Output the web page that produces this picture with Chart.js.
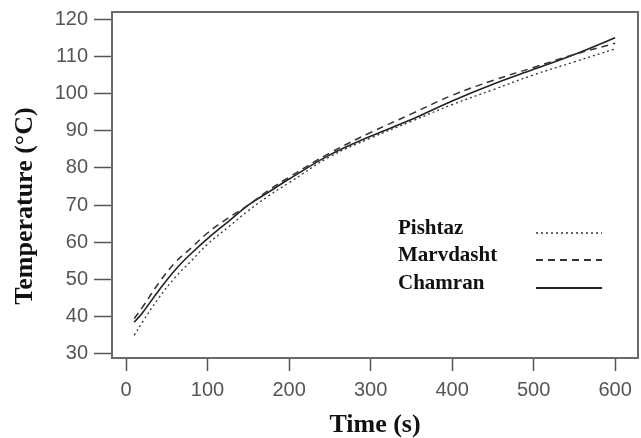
<!DOCTYPE html>
<html lang="en">
<head>
  <meta charset="UTF-8">
  <title>Temperature vs Time</title>
  <script src="https://cdn.jsdelivr.net/npm/chart.js"></script>
  <style>
    html, body { margin: 0; padding: 0; background: #fff; overflow: hidden; }
    .chart-container { position: relative; width: 641px; height: 438px; }
  </style>
</head>
<body>
  <div class="chart-container">
    <canvas id="tempChart" width="641" height="438"></canvas>
  </div>

  <script>
    // time in seconds
    const times = [10, 20, 40, 60, 80, 100, 125, 150, 175, 200, 250, 300, 350, 400, 450, 500, 550, 600];

    const pishtaz   = [35, 38.5, 45, 50.5, 55, 59.5, 64, 68.5, 72.5, 76, 83, 88, 92.5, 97, 101, 105, 108.5, 112];
    const marvdasht = [39.5, 42.5, 49, 54.5, 58.5, 62.5, 66.5, 70, 74, 77.5, 84, 89.5, 94.5, 99.5, 103.5, 107, 110.5, 113.5];
    const chamran   = [38.5, 41, 47, 52.5, 57, 61, 65.5, 70, 73.5, 77, 83.5, 88.5, 93, 98, 102.5, 106.5, 110.5, 115];

    const xTicks = [0, 100, 200, 300, 400, 500, 600];
    const yTicks = [30, 40, 50, 60, 70, 80, 90, 100, 110, 120];

    const yTitle = 'Temperature (°C)';

    function toPoints(vals) {
      return times.map((t, i) => ({ x: t, y: vals[i] }));
    }

    // box around the plot, legend inside it, and the y title
    const framePlugin = {
      id: 'frame',
      afterDraw(chart) {
        const { ctx, chartArea: a } = chart;
        ctx.save();
        ctx.strokeStyle = '#6a6a6a';
        ctx.lineWidth = 2;
        ctx.beginPath();
        ctx.moveTo(a.left, a.top);
        ctx.lineTo(a.right, a.top);
        ctx.lineTo(a.right, a.bottom);
        ctx.stroke();

        // legend: label left, line sample right
        ctx.font = 'bold 21px "Liberation Serif", serif';
        ctx.fillStyle = '#111';
        ctx.textBaseline = 'middle';
        const rows = [229, 256, 284];
        chart.data.datasets.forEach((ds, i) => {
          ctx.fillText(ds.label, 398, rows[i]);
          ctx.beginPath();
          ctx.setLineDash(ds.borderDash || []);
          ctx.strokeStyle = ds.borderColor;
          ctx.lineWidth = ds.borderWidth + 0.4;
          ctx.moveTo(536, rows[i] + 4);
          ctx.lineTo(602, rows[i] + 4);
          ctx.stroke();
        });
        ctx.setLineDash([]);

        // rotated y title
        ctx.translate(25, 206);
        ctx.rotate(-Math.PI / 2);
        ctx.textAlign = 'center';
        ctx.font = 'bold 26px "Liberation Serif", serif';
        ctx.fillText(yTitle, 0, 0);
        ctx.restore();
      }
    };

    const tickFont = { family: '"Liberation Sans", Arial, sans-serif', size: 20 };
    const titleFont = { family: '"Liberation Serif", "Times New Roman", serif', size: 26, weight: 'bold' };

    new Chart(document.getElementById('tempChart').getContext('2d'), {
      type: 'line',
      data: {
        datasets: [
          {
            label: 'Pishtaz',
            data: toPoints(pishtaz),
            borderColor: '#333',
            borderWidth: 1.3,
            borderDash: [2, 3],
            pointRadius: 0,
            tension: 0.4
          },
          {
            label: 'Marvdasht',
            data: toPoints(marvdasht),
            borderColor: '#333',
            borderWidth: 1.5,
            borderDash: [7, 5],
            pointRadius: 0,
            tension: 0.4
          },
          {
            label: 'Chamran',
            data: toPoints(chamran),
            borderColor: '#222',
            borderWidth: 1.6,
            pointRadius: 0,
            tension: 0.4
          }
        ]
      },
      options: {
        responsive: false,
        animation: false,
        maintainAspectRatio: false,
        layout: { padding: { top: 12, right: 3, left: 0, bottom: 0 } },
        plugins: {
          legend: { display: false },
          tooltip: { enabled: false }
        },
        scales: {
          x: {
            type: 'linear',
            min: -17.2,
            max: 628,
            afterBuildTicks(scale) { scale.ticks = xTicks.map(v => ({ value: v })); },
            afterFit(scale) {
              scale.height = 80;
              scale.paddingLeft = 0;
              scale.paddingRight = 0;
            },
            grid: { drawOnChartArea: false, drawTicks: true, tickLength: 13, tickColor: '#555', tickWidth: 1.5 },
            border: { display: true, color: '#6a6a6a', width: 2 },
            ticks: { color: '#555', font: tickFont, padding: 7, maxRotation: 0 },
            title: { display: true, text: 'Time (s)', color: '#111', font: titleFont, padding: { top: 0, bottom: -3 } }
          },
          y: {
            min: 28.9,
            max: 121.9,
            afterBuildTicks(scale) { scale.ticks = yTicks.map(v => ({ value: v })); },
            afterFit(scale) {
              scale.width = 112;
              scale.paddingTop = 0;
              scale.paddingBottom = 0;
            },
            grid: { drawOnChartArea: false, drawTicks: true, tickLength: 18, tickColor: '#555', tickWidth: 1.5 },
            border: { display: true, color: '#6a6a6a', width: 2 },
            ticks: { color: '#555', font: tickFont, padding: 6 }
          }
        }
      },
      plugins: [framePlugin]
    });
  </script>
</body>
</html>
